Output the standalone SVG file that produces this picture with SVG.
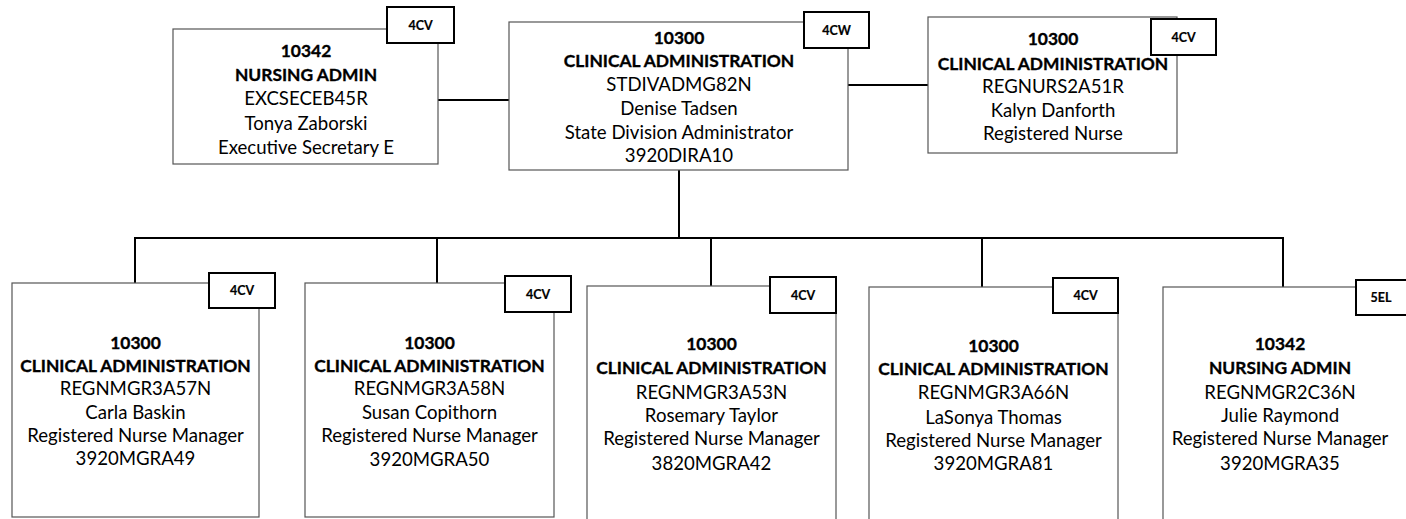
<svg xmlns="http://www.w3.org/2000/svg" width="1406" height="519" viewBox="0 0 1406 519">
<style>
.box{fill:#fff;stroke:#555;stroke-width:1.2}
.badge{fill:#fff;stroke:#000;stroke-width:2}
.bt{font-family:Lato,"Liberation Sans",sans-serif;font-size:12.5px;font-weight:bold;fill:#000;stroke:#000;stroke-width:0.2;text-anchor:middle;dominant-baseline:central}
.t{font-family:Lato,"Liberation Sans",sans-serif;font-size:18.6px;fill:#000;text-anchor:middle;dominant-baseline:central}
.b{font-weight:bold;font-size:17.4px;stroke:#000;stroke-width:0.35}
.conn{stroke:#000;stroke-width:2;fill:none}
</style>
<rect width="1406" height="519" fill="#fff"/>
<g id="connectors">
<line class="conn" x1="438" y1="100" x2="509" y2="100"/>
<line class="conn" x1="848" y1="85" x2="928" y2="85"/>
<line class="conn" x1="679" y1="170" x2="679" y2="238"/>
<line class="conn" x1="134" y1="238" x2="1284" y2="238"/>
<line class="conn" x1="135" y1="237" x2="135" y2="283"/>
<line class="conn" x1="437" y1="237" x2="437" y2="283"/>
<line class="conn" x1="711" y1="237" x2="711" y2="286"/>
<line class="conn" x1="982" y1="237" x2="982" y2="287"/>
<line class="conn" x1="1283" y1="237" x2="1283" y2="287"/>
</g>
<g id="n1">
<rect class="box" x="173" y="29" width="265" height="135"/>
<rect class="badge" x="387" y="7" width="67" height="36"/>
<text class="bt" x="420.5" y="25">4CV</text>
<text class="t b" x="306" y="50">10342</text>
<text class="t b" x="306" y="74">NURSING ADMIN</text>
<text class="t" x="306" y="98">EXCSECEB45R</text>
<text class="t" x="306" y="123">Tonya Zaborski</text>
<text class="t" x="306" y="147">Executive Secretary E</text>
</g>
<g id="n2">
<rect class="box" x="509" y="22" width="339" height="148"/>
<rect class="badge" x="804" y="12" width="65" height="36"/>
<text class="bt" x="836.5" y="30">4CW</text>
<text class="t b" x="679" y="37">10300</text>
<text class="t b" x="679" y="60">CLINICAL ADMINISTRATION</text>
<text class="t" x="679" y="84">STDIVADMG82N</text>
<text class="t" x="679" y="108">Denise Tadsen</text>
<text class="t" x="679" y="132">State Division Administrator</text>
<text class="t" x="679" y="155">3920DIRA10</text>
</g>
<g id="n3">
<rect class="box" x="928" y="17" width="249" height="136"/>
<text class="t b" x="1053" y="38">10300</text>
<text class="t b" x="1053" y="63">CLINICAL ADMINISTRATION</text>
<text class="t" x="1053" y="86">REGNURS2A51R</text>
<text class="t" x="1053" y="110">Kalyn Danforth</text>
<text class="t" x="1053" y="133">Registered Nurse</text>
<rect class="badge" x="1151" y="19" width="65" height="36"/>
<text class="bt" x="1183.5" y="37">4CV</text>
</g>
<g id="n4">
<rect class="box" x="12" y="283" width="247" height="234"/>
<rect class="badge" x="209" y="273" width="66" height="35"/>
<text class="bt" x="242" y="290.5">4CV</text>
<text class="t b" x="135.5" y="342">10300</text>
<text class="t b" x="135.5" y="365">CLINICAL ADMINISTRATION</text>
<text class="t" x="135.5" y="388">REGNMGR3A57N</text>
<text class="t" x="135.5" y="412">Carla Baskin</text>
<text class="t" x="135.5" y="435">Registered Nurse Manager</text>
<text class="t" x="135.5" y="458">3920MGRA49</text>
</g>
<g id="n5">
<rect class="box" x="305" y="283" width="249" height="234"/>
<rect class="badge" x="505" y="276" width="66" height="36"/>
<text class="bt" x="538" y="294">4CV</text>
<text class="t b" x="429.5" y="342">10300</text>
<text class="t b" x="429.5" y="365">CLINICAL ADMINISTRATION</text>
<text class="t" x="429.5" y="388">REGNMGR3A58N</text>
<text class="t" x="429.5" y="412">Susan Copithorn</text>
<text class="t" x="429.5" y="435">Registered Nurse Manager</text>
<text class="t" x="429.5" y="459">3920MGRA50</text>
</g>
<g id="n6">
<rect class="box" x="587" y="286" width="249" height="240"/>
<rect class="badge" x="770" y="277" width="66" height="36"/>
<text class="bt" x="803" y="295">4CV</text>
<text class="t b" x="711.5" y="343">10300</text>
<text class="t b" x="711.5" y="367">CLINICAL ADMINISTRATION</text>
<text class="t" x="711.5" y="392">REGNMGR3A53N</text>
<text class="t" x="711.5" y="415">Rosemary Taylor</text>
<text class="t" x="711.5" y="438">Registered Nurse Manager</text>
<text class="t" x="711.5" y="463">3820MGRA42</text>
</g>
<g id="n7">
<rect class="box" x="869" y="287" width="249" height="240"/>
<rect class="badge" x="1053" y="278" width="65" height="35"/>
<text class="bt" x="1085.5" y="295.5">4CV</text>
<text class="t b" x="993.5" y="345">10300</text>
<text class="t b" x="993.5" y="368">CLINICAL ADMINISTRATION</text>
<text class="t" x="993.5" y="392">REGNMGR3A66N</text>
<text class="t" x="993.5" y="417">LaSonya Thomas</text>
<text class="t" x="993.5" y="440">Registered Nurse Manager</text>
<text class="t" x="993.5" y="463">3920MGRA81</text>
</g>
<g id="n8">
<rect class="box" x="1163" y="287" width="250" height="240"/>
<rect class="badge" x="1356" y="280" width="60" height="35"/>
<text class="bt" x="1381" y="297.5">5EL</text>
<text class="t b" x="1280" y="343">10342</text>
<text class="t b" x="1280" y="367">NURSING ADMIN</text>
<text class="t" x="1280" y="392">REGNMGR2C36N</text>
<text class="t" x="1280" y="415">Julie Raymond</text>
<text class="t" x="1280" y="438">Registered Nurse Manager</text>
<text class="t" x="1280" y="463">3920MGRA35</text>
</g>
</svg>
